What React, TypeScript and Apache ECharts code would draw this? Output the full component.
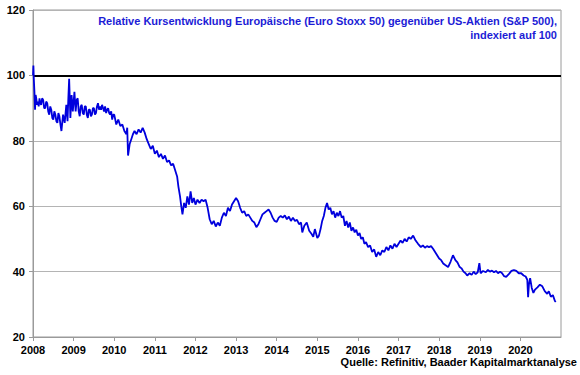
import React, { useEffect, useRef } from "react";
import * as echarts from "echarts";

// decimal years of each observation
const years: number[] = [
  2008.0, 2008.01, 2008.02, 2008.035, 2008.05, 2008.065, 2008.08, 2008.1, 2008.12, 2008.14, 2008.16, 2008.18, 2008.2,
  2008.225, 2008.25, 2008.275, 2008.3, 2008.325, 2008.35, 2008.375, 2008.4, 2008.425, 2008.45, 2008.475, 2008.5,
  2008.525, 2008.55, 2008.575, 2008.6, 2008.625, 2008.65, 2008.675, 2008.7, 2008.74, 2008.78, 2008.82, 2008.85,
  2008.87, 2008.89, 2008.92, 2008.95, 2008.98, 2009.02, 2009.05, 2009.075, 2009.1, 2009.125, 2009.15, 2009.175,
  2009.2, 2009.225, 2009.25, 2009.275, 2009.3, 2009.325, 2009.35, 2009.375, 2009.4, 2009.425, 2009.45, 2009.475,
  2009.5, 2009.525, 2009.55, 2009.575, 2009.6, 2009.625, 2009.65, 2009.675, 2009.7, 2009.725, 2009.75, 2009.775,
  2009.8, 2009.825, 2009.85, 2009.875, 2009.9, 2009.925, 2009.95, 2009.975,
  2010.0, 2010.05, 2010.1, 2010.15, 2010.2, 2010.25, 2010.3, 2010.32, 2010.34, 2010.38, 2010.42, 2010.46, 2010.5,
  2010.55, 2010.6, 2010.65, 2010.7, 2010.75, 2010.8, 2010.85, 2010.9, 2010.95,
  2011.0, 2011.05, 2011.1, 2011.15, 2011.2, 2011.25, 2011.3, 2011.35, 2011.4, 2011.45, 2011.5, 2011.55, 2011.58,
  2011.62, 2011.65, 2011.68, 2011.72, 2011.76, 2011.8, 2011.84, 2011.88, 2011.92, 2011.96,
  2012.0, 2012.05, 2012.1, 2012.15, 2012.2, 2012.25, 2012.3, 2012.35, 2012.4, 2012.45, 2012.5, 2012.55, 2012.6,
  2012.65, 2012.7, 2012.75, 2012.8, 2012.85, 2012.9, 2012.95,
  2013.0, 2013.05, 2013.1, 2013.15, 2013.2, 2013.25, 2013.3, 2013.35, 2013.4, 2013.45, 2013.5, 2013.55, 2013.6,
  2013.65, 2013.7, 2013.75, 2013.8, 2013.85, 2013.9, 2013.95,
  2014.0, 2014.05, 2014.1, 2014.15, 2014.2, 2014.25, 2014.3, 2014.35, 2014.4, 2014.45, 2014.5, 2014.55, 2014.6,
  2014.63, 2014.68, 2014.74, 2014.8, 2014.86, 2014.9, 2014.94,
  2015.0, 2015.04, 2015.08, 2015.12, 2015.16, 2015.2, 2015.24, 2015.28, 2015.32, 2015.36, 2015.4, 2015.44, 2015.48,
  2015.52, 2015.56, 2015.6, 2015.64, 2015.68, 2015.72, 2015.76, 2015.8, 2015.84, 2015.88, 2015.92, 2015.96,
  2016.0, 2016.04, 2016.08, 2016.12, 2016.16, 2016.2, 2016.25, 2016.3, 2016.35, 2016.4, 2016.45, 2016.5, 2016.55,
  2016.6, 2016.65, 2016.7, 2016.75, 2016.8, 2016.85, 2016.9, 2016.95,
  2017.0, 2017.05, 2017.1, 2017.15, 2017.2, 2017.25, 2017.3, 2017.36, 2017.42, 2017.48, 2017.55, 2017.6, 2017.65,
  2017.7, 2017.75, 2017.8, 2017.85, 2017.9, 2017.95,
  2018.0, 2018.05, 2018.1, 2018.15, 2018.22, 2018.28, 2018.34, 2018.4, 2018.45, 2018.5, 2018.55, 2018.6, 2018.65,
  2018.69, 2018.75, 2018.8, 2018.85, 2018.9, 2018.95, 2018.99,
  2019.02, 2019.08, 2019.15, 2019.2, 2019.25, 2019.3, 2019.35, 2019.4, 2019.45, 2019.5, 2019.55, 2019.6, 2019.65,
  2019.72, 2019.78, 2019.84, 2019.9, 2019.96,
  2020.02, 2020.08, 2020.13, 2020.17, 2020.19, 2020.21, 2020.24, 2020.28, 2020.32, 2020.36, 2020.42, 2020.48,
  2020.54, 2020.6, 2020.66, 2020.7, 2020.75, 2020.8, 2020.85, 2020.87,
];

// Euro Stoxx 50 relative to S&P 500, indexed to 100
const ratio: number[] = [
  100, 103, 99, 95, 89.5, 94, 93, 91, 92, 90.5, 93, 91.5, 91,
  93, 92.5, 90, 90, 92, 91.5, 89, 88, 90.5, 89.5, 87, 86.5,
  89, 88, 86, 85.5, 88.5, 87.5, 85, 83, 88, 85.5, 91, 86,
  93, 99, 87, 94, 89, 95, 89, 92.5, 93, 89, 87.5, 90.5,
  91, 88.5, 88, 90.5, 90.5, 88, 87, 89.5, 89.5, 87.5, 88, 90,
  90, 88, 88.5, 90.5, 91.5, 89.5, 90.5, 89.5, 91, 90, 89, 90.5,
  88.5, 89.5, 90, 88.5, 88, 89, 86.5, 88,
  88, 85, 86.5, 84.5, 85, 83, 82, 84, 75.5, 79, 80.5, 82, 83,
  82, 83.5, 82.5, 84, 82.5, 80.5, 79, 77.5, 78.5,
  76, 77, 75, 76, 74.5, 75.5, 73.5, 74, 72.5, 73, 71, 69, 66,
  63, 60, 57.5, 61, 59.5, 63, 60.5, 64.5, 61, 62.5,
  60.5, 62, 61, 62, 61.5, 62, 59.5, 56, 54.5, 55.5, 53.8, 55, 54,
  56.5, 58, 57, 59.5, 58.5, 60.5, 61.5,
  62.5, 61.5, 59.5, 58, 58.5, 57, 57.5, 56.5, 55.5, 55, 53.6, 54.5, 56,
  57.5, 58, 58.5, 59, 58, 56.5, 55.5,
  55.2, 56.5, 57, 56.5, 57.2, 56, 56.8, 55.5, 56.5, 55.5, 55.8, 54.5, 55,
  52, 54, 55, 52.5, 51.5, 50.6, 53,
  50.3, 51, 53, 55.5, 57, 59.5, 61, 59, 59.5, 57.5, 58.5, 56.5, 58,
  57, 58.5, 56.5, 57, 54, 55.5, 53.5, 55, 52.5, 53.5, 52, 52.8,
  51, 51.8, 50, 50.5, 48.5, 49, 47.5, 48, 46, 46.8, 44.5, 46, 45,
  46.5, 46, 47.5, 46.5, 48, 47, 48.5, 47.5,
  48.5, 49.5, 48.8, 50, 49.2, 50.5, 50, 51, 49.5, 48.5, 47.5, 48, 47.3,
  47.8, 47.5, 47.8, 47, 46, 45,
  44, 43.5, 42.5, 42, 41.4, 43, 45, 43.5, 42.8, 41.5, 41, 40, 39.5,
  38.8, 39.5, 39, 40, 39.2, 39.8, 42.6,
  39.5, 40.2, 39.8, 40.5, 40, 40.3, 39.8, 40.2, 39.5, 40, 39.5, 38.6, 38.4,
  39.3, 40.2, 40.5, 40.2, 39.5,
  39.5, 38.8, 38.5, 37.5, 32.2, 36, 38, 35, 33.5, 34.5, 35.2, 36,
  35.5, 34, 33.2, 34, 32.3, 32.8, 31, 30.7,
];

const yTicks: number[] = [20, 40, 60, 80, 100, 120];
const xYearLabels: number[] = [2008, 2009, 2010, 2011, 2012, 2013, 2014, 2015, 2016, 2017, 2018, 2019, 2020];

const titleLines: string[] = [
  "Relative Kursentwicklung Europäische (Euro Stoxx 50) gegenüber US-Aktien (S&P 500),",
  "indexiert auf 100",
];
const sourceText = "Quelle: Refinitiv, Baader Kapitalmarktanalyse";

const FONT = "'Liberation Sans', Arial, sans-serif";

export default function App() {
  const ref = useRef<HTMLDivElement>(null);
  useEffect(() => {
    if (!ref.current) return;
    const chart = echarts.init(ref.current, null, { renderer: "svg" });
    const data = years.map((y, i) => [y, ratio[i]]);
    chart.setOption({
      animation: false,
      backgroundColor: "#ffffff",
      grid: {
        left: 33,
        right: 19,
        top: 10,
        bottom: 38,
        show: true,
        borderColor: "#9a9a9a",
        borderWidth: 1,
      },
      xAxis: {
        type: "value",
        min: 2008,
        max: 2021,
        interval: 1,
        axisLine: { show: true, lineStyle: { color: "#9a9a9a", width: 1 } },
        axisTick: { show: true, length: 4, lineStyle: { color: "#9a9a9a" } },
        splitLine: { show: false },
        axisLabel: {
          margin: 7,
          color: "#000",
          fontFamily: FONT,
          fontWeight: "bold",
          fontSize: 11,
          showMaxLabel: false,
          formatter: (v: number) => (xYearLabels.indexOf(v) >= 0 ? String(v) : ""),
        },
      },
      yAxis: {
        type: "value",
        min: yTicks[0],
        max: yTicks[yTicks.length - 1],
        interval: 20,
        axisLine: { show: true, lineStyle: { color: "#9a9a9a", width: 1 } },
        axisTick: { show: true, length: 4, lineStyle: { color: "#9a9a9a" } },
        splitLine: { show: true, lineStyle: { color: "#b4b4b4", width: 1 } },
        axisLabel: {
          margin: 8,
          color: "#000",
          fontFamily: FONT,
          fontWeight: "bold",
          fontSize: 11,
        },
      },
      series: [
        {
          type: "line",
          data,
          showSymbol: false,
          symbol: "none",
          lineStyle: { color: "#0000dd", width: 1.8 },
          z: 3,
          markLine: {
            silent: true,
            symbol: ["none", "none"],
            label: { show: false },
            lineStyle: { color: "#000000", width: 2, type: "solid" },
            data: [{ yAxis: 100 }],
            z: 2,
          },
        },
      ],
      graphic: [
        {
          type: "text",
          right: 23,
          top: 14,
          style: {
            text: titleLines.join("\n"),
            fill: "#1c1cd6",
            font: `bold 11px ${FONT}`,
            textAlign: "right",
            lineHeight: 14,
          },
        },
        {
          type: "text",
          right: 3,
          top: 356,
          style: {
            text: sourceText,
            fill: "#000",
            font: `bold 11px ${FONT}`,
            textAlign: "right",
          },
        },
      ],
    });
    return () => chart.dispose();
  }, []);
  return <div ref={ref} style={{ width: 580, height: 375, position: "absolute", left: 0, top: 0 }} />;
}
